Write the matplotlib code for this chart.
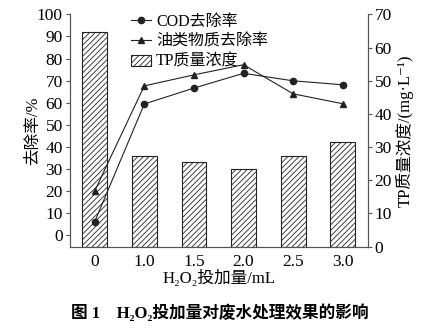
import numpy as np
import matplotlib.pyplot as plt

plt.rcParams['font.family'] = ['Liberation Serif', 'Noto Sans CJK SC', 'DejaVu Serif']
plt.rcParams['hatch.linewidth'] = 0.6

# dosage categories
doses = ['0', '1.0', '1.5', '2.0', '2.5', '3.0']
cod = [6.0, 59.4, 66.6, 73.3, 69.9, 68.1]       # COD removal %
oil = [19.9, 67.6, 72.6, 77.2, 64.0, 59.5]      # oil removal %
tp = [64.6, 27.4, 25.4, 23.3, 27.4, 31.6]       # TP mg/L

x = np.arange(len(doses))
fig = plt.figure(figsize=(4.45, 3.28), dpi=100)
ax = fig.add_axes([0.157, 0.248, 0.669, 0.708])
ax2 = ax.twinx()

b = ax2.bar(x, tp, width=0.5, color='white', edgecolor='#222222',
            hatch='//////', linewidth=0.8)
l1, = ax.plot(x, cod, color='#222222', lw=0.8, marker='o', ms=4.5)
l2, = ax.plot(x, oil, color='#222222', lw=0.8, marker='^', ms=4.5)

ax.set_zorder(ax2.get_zorder() + 1)
ax.patch.set_visible(False)

ax.set_xlim(-0.5, 5.5)
ax.set_ylim(-5.3, 100)
ax.set_yticks(range(0, 101, 10))
ax2.set_ylim(0, 70)
ax2.set_yticks(range(0, 71, 10))
ax.set_xticks(x)
ax.set_xticklabels(doses)

for a in (ax, ax2):
    a.spines['top'].set_visible(False)
    for s in a.spines.values():
        s.set_color('#555555')
        s.set_linewidth(0.8)
    a.tick_params(axis='y', direction='out', length=3, width=0.8, color='#555555',
                  labelsize=12.5, pad=2)
ax.tick_params(axis='x', length=0, labelsize=12.5, pad=5)

ax.set_xlabel('H₂O₂投加量/mL', fontsize=12, labelpad=0)
ax.set_ylabel('去除率/%', fontsize=12, labelpad=-3)
ax2.set_ylabel('TP质量浓度/(mg·L⁻¹)', fontsize=12, labelpad=3)

ax.legend([l1, l2, b], ['COD去除率', '油类物质去除率', 'TP质量浓度'],
          loc='upper left', bbox_to_anchor=(0.185, 1.03), frameon=False,
          fontsize=11.5, handlelength=1.25, handletextpad=0.3,
          labelspacing=0.25, borderaxespad=0)

fig.text(0.494, 0.046, '图 1　H₂O₂投加量对废水处理效果的影响',
         ha='center', va='center', fontsize=12, fontweight='bold')

fig.savefig('out.png', dpi=100)
